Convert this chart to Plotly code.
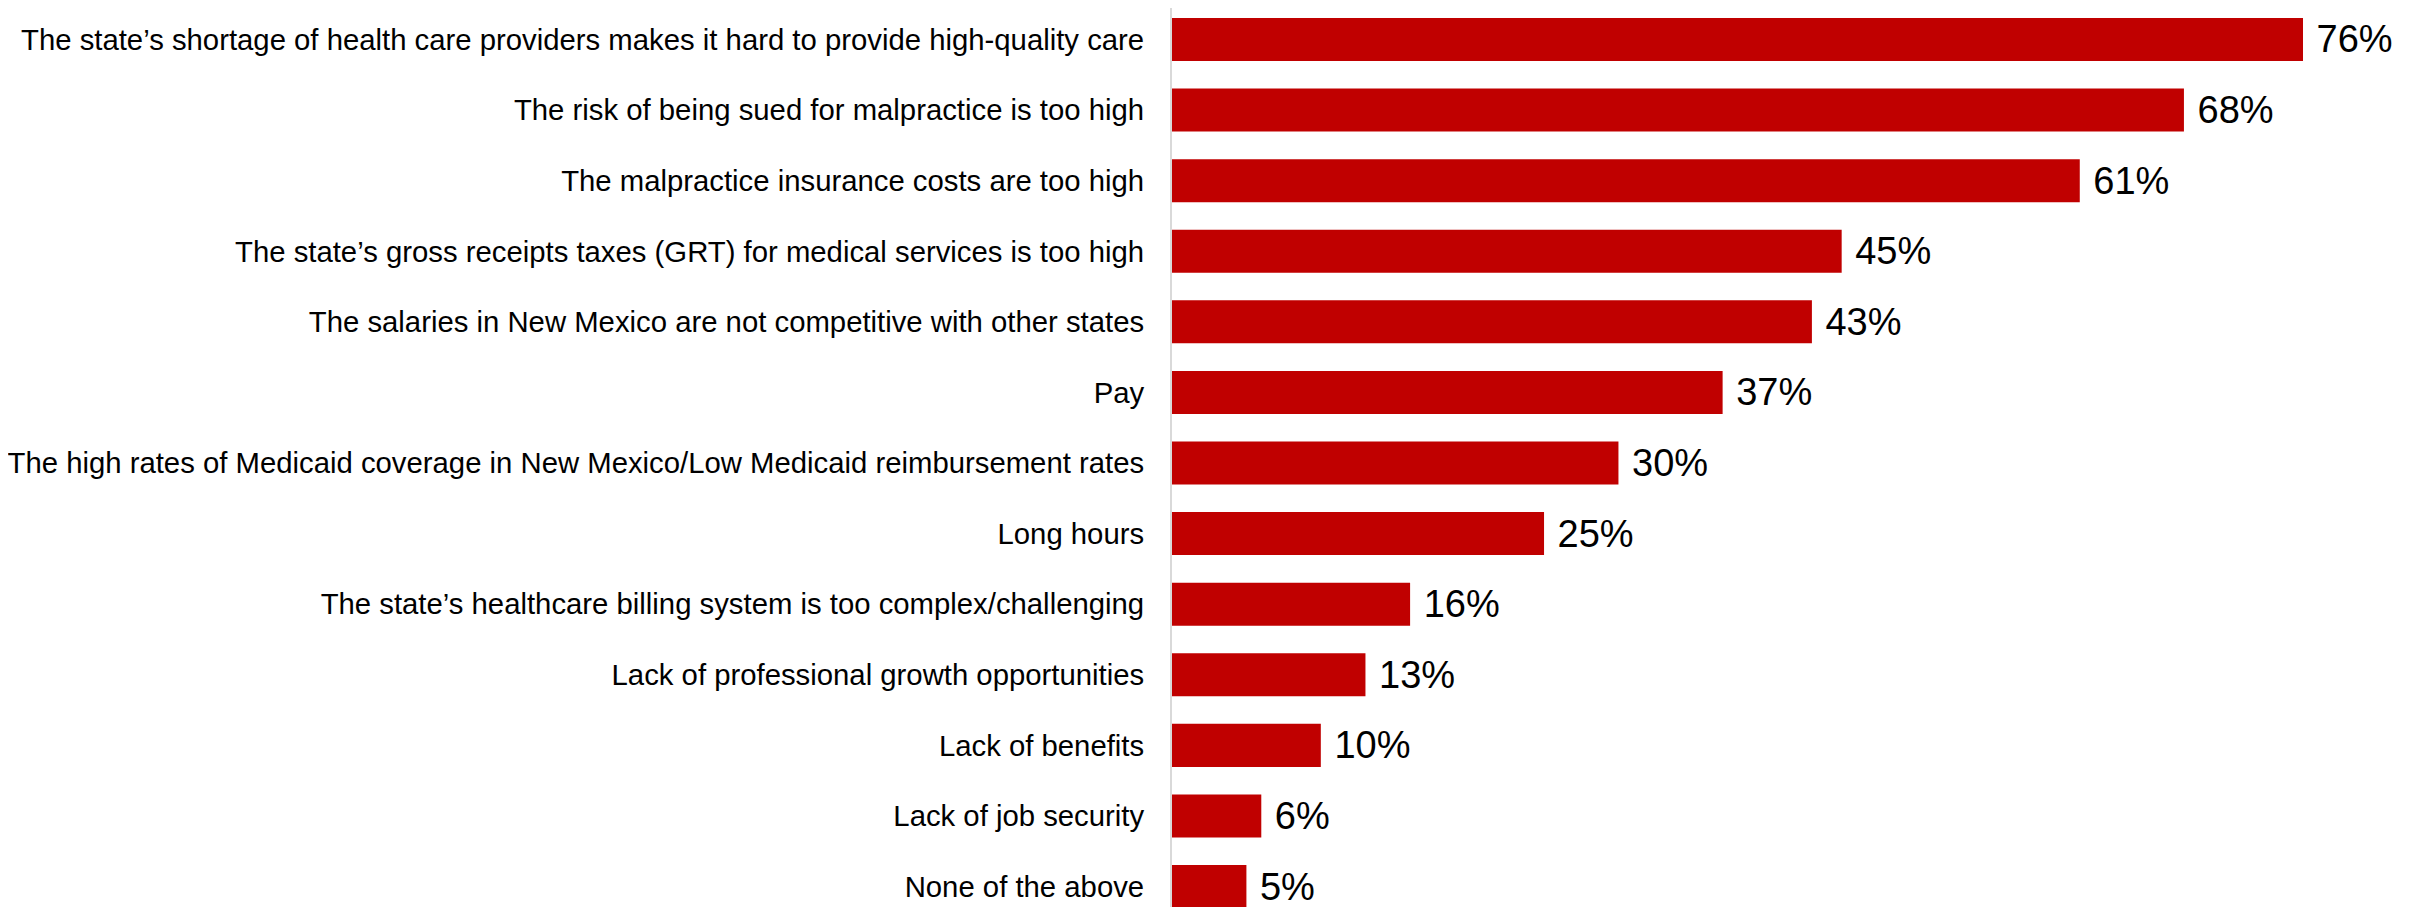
import plotly.graph_objects as go

categories = [
    "The state’s shortage of health care providers makes it hard to provide high-quality care",
    "The risk of being sued for malpractice is too high",
    "The malpractice insurance costs are too high",
    "The state’s gross receipts taxes (GRT) for medical services is too high",
    "The salaries in New Mexico are not competitive with other states",
    "Pay",
    "The high rates of Medicaid coverage in New Mexico/Low Medicaid reimbursement rates",
    "Long hours",
    "The state’s healthcare billing system is too complex/challenging",
    "Lack of professional growth opportunities",
    "Lack of benefits",
    "Lack of job security",
    "None of the above",
]
values = [76, 68, 61, 45, 43, 37, 30, 25, 16, 13, 10, 6, 5]

fig = go.Figure(
    go.Bar(
        x=values,
        y=categories,
        orientation="h",
        marker=dict(color="#C00000", line=dict(width=0)),
        text=[f"{v}%" for v in values],
        texttemplate=" %{text}",
        textposition="outside",
        textfont=dict(family="Liberation Sans, Arial", size=38, color="#000000"),
        cliponaxis=False,
    )
)

# page body has an 8px margin, so the figure is shifted and cropped at the bottom
fig.update_layout(
    width=2420,
    height=899,
    margin=dict(l=1164, r=0, t=0, b=0),
    paper_bgcolor="white",
    plot_bgcolor="white",
    bargap=0.39,
    showlegend=False,
    font=dict(family="Liberation Sans, Arial", color="#000000"),
)
fig.update_xaxes(
    range=[0, 84.4],
    visible=False,
    showgrid=False,
    zeroline=False,
    automargin=False,
)
fig.update_yaxes(
    range=[12.29, -0.446],
    showgrid=False,
    zeroline=False,
    showline=True,
    linecolor="#d9d9d9",
    linewidth=2,
    ticks="",
    automargin=False,
    ticklabelstandoff=20,
    tickfont=dict(family="Liberation Sans, Arial", size=29.3, color="#000000"),
)

fig.write_html("out.html")
